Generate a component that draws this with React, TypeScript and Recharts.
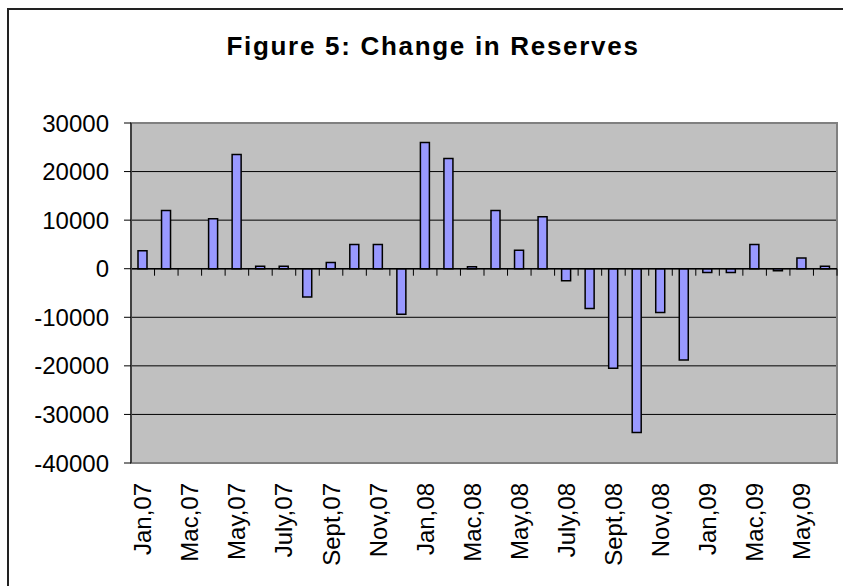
import { BarChart, Bar, XAxis, YAxis, CartesianGrid, ReferenceLine, ReferenceArea } from "recharts"

const months = [
  "Jan,07", "Feb,07", "Mac,07", "Apr,07", "May,07", "Jun,07",
  "July,07", "Aug,07", "Sept,07", "Oct,07", "Nov,07", "Dec,07",
  "Jan,08", "Feb,08", "Mac,08", "Apr,08", "May,08", "Jun,08",
  "July,08", "Aug,08", "Sept,08", "Oct,08", "Nov,08", "Dec,08",
  "Jan,09", "Feb,09", "Mac,09", "Apr,09", "May,09", "Jun,09",
]

const reserveChange: (number | null)[] = [
  3700, 12000, null, 10300, 23500, 500,
  500, -5800, 1300, 5000, 5000, -9400,
  26000, 22700, 400, 12000, 3800, 10700,
  -2500, -8200, -20500, -33700, -9000, -18800,
  -800, -800, 5000, -400, 2200, 500,
]

const yTicks = [30000, 20000, 10000, 0, -10000, -20000, -30000, -40000]

const data = months.map((m, i) => ({ month: m, value: reserveChange[i] }))

const FONT = "'Liberation Sans', Arial, sans-serif"

function MonthTick(props: any) {
  const { x, y, payload } = props
  return (
    <text
      x={x}
      y={y}
      transform={`rotate(-90, ${x}, ${y})`}
      textAnchor="end"
      dominantBaseline="central"
      fontSize={24}
      fontFamily={FONT}
      fill="#000"
    >
      {payload.value}
    </text>
  )
}

// zero line with the category boundary ticks hanging below it
function ZeroAxis(props: any) {
  const { x1, x2, y1 } = props
  const n = months.length
  const step = (x2 - x1) / n
  const marks = []
  for (let i = 0; i <= n; i++) {
    const x = x1 + i * step
    marks.push(<line key={i} x1={x} x2={x} y1={y1} y2={y1 + 7} stroke="#000" strokeWidth={1} />)
  }
  return (
    <g>
      <line x1={x1} x2={x2} y1={y1} y2={y1} stroke="#000" strokeWidth={1.5} />
      {marks}
    </g>
  )
}

export default function App() {
  return (
    <div style={{ position: "absolute", left: 0, top: 0, width: 843, height: 586, overflow: "hidden", background: "#fff" }}>
      <div
        style={{
          position: "absolute",
          left: 7,
          top: 8,
          width: 900,
          height: 700,
          border: "2px solid #222",
        }}
      />
      <div
        style={{
          position: "absolute",
          left: 0,
          top: 31,
          width: 866,
          textAlign: "center",
          fontFamily: FONT,
          fontWeight: "bold",
          fontSize: 26,
          lineHeight: "30px",
          letterSpacing: "1.7px",
          color: "#000",
        }}
      >
        Figure 5: Change in Reserves
      </div>
      <div style={{ position: "absolute", left: 0, top: 0 }}>
        <BarChart
          width={843}
          height={586}
          data={data}
          margin={{ top: 123, right: 6, bottom: 0, left: 0 }}
          barSize={9}
        >
          <CartesianGrid vertical={false} stroke="#000" strokeWidth={1} fill="#C0C0C0" fillOpacity={1} />
          <XAxis
            dataKey="month"
            interval={1}
            height={123}
            axisLine={false}
            tickLine={false}
            tickSize={0}
            tickMargin={20}
            tick={<MonthTick />}
          />
          <YAxis
            width={131}
            domain={[-40000, 30000]}
            ticks={yTicks}
            interval={0}
            axisLine={{ stroke: "#404040", strokeWidth: 2 }}
            tickLine={{ stroke: "#000" }}
            tickSize={7}
            tickMargin={15}
            tick={{ fontSize: 24, fontFamily: FONT, fill: "#000" }}
          />
          <ReferenceArea y1={-40000} y2={30000} fill="none" fillOpacity={0} stroke="#808080" strokeWidth={2} />
          <Bar dataKey="value" fill="#9999FF" stroke="#000" strokeWidth={1.5} isAnimationActive={false} />
          <ReferenceLine y={0} shape={<ZeroAxis />} />
        </BarChart>
      </div>
    </div>
  )
}
